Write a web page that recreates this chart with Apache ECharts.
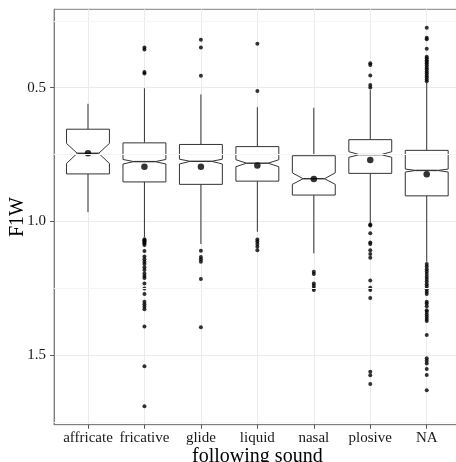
<!DOCTYPE html>
<html>
<head>
<meta charset="utf-8">
<script src="https://cdn.jsdelivr.net/npm/echarts@6/dist/echarts.min.js"></script>
<style>
  html, body { margin: 0; padding: 0; background: #ffffff; }
  #chart { width: 456px; height: 462px; }
</style>
</head>
<body>
<div id="chart"></div>
<script>
// F1W by following sound: notched boxplots with means and outliers
const categories = ['affricate', 'fricative', 'glide', 'liquid', 'nasal', 'plosive', 'NA'];

const whiskerLow  = [0.560, 0.502, 0.525, 0.573, 0.575, 0.509, 0.482];
const q1          = [0.655, 0.706, 0.712, 0.720, 0.754, 0.694, 0.734];
const notchLow    = [0.708, 0.768, 0.767, 0.769, 0.818, 0.739, 0.804];
const median      = [0.745, 0.776, 0.775, 0.782, 0.840, 0.750, 0.809];
const notchHigh   = [0.783, 0.785, 0.785, 0.795, 0.861, 0.760, 0.815];
const q3          = [0.822, 0.852, 0.861, 0.849, 0.901, 0.820, 0.904];
const whiskerHigh = [0.965, 1.058, 1.084, 1.038, 1.119, 1.006, 1.150];
const means       = [0.745, 0.795, 0.795, 0.791, 0.841, 0.770, 0.823];

const outlierValues = [
  [],
  [0.350, 0.357, 0.441, 0.447,
   1.066, 1.070, 1.074, 1.078, 1.082, 1.088, 1.110, 1.131, 1.141, 1.150, 1.159,
   1.171, 1.181, 1.194, 1.203, 1.211, 1.231, 1.250, 1.271, 1.300, 1.309,
   1.318, 1.328, 1.392, 1.541, 1.690],
  [0.321, 0.350, 0.455, 1.109, 1.132, 1.141, 1.150, 1.215, 1.395],
  [0.336, 0.512, 1.067, 1.075, 1.084, 1.094, 1.107],
  [1.188, 1.196, 1.231, 1.240, 1.249, 1.256],
  [0.409, 0.415, 0.454, 0.490, 0.499,
   1.011, 1.015, 1.044, 1.078, 1.084, 1.107, 1.121, 1.135, 1.220, 1.247,
   1.256, 1.286, 1.561, 1.574, 1.607],
  [0.276, 0.313, 0.319, 0.354, 0.384, 0.390, 0.397, 0.403, 0.409, 0.416,
   0.424, 0.431, 0.439, 0.446, 0.454, 0.461, 0.469, 0.476,
   1.159, 1.168, 1.178, 1.187, 1.196, 1.206, 1.215, 1.224, 1.234, 1.243,
   1.253, 1.262, 1.271, 1.300, 1.306, 1.316, 1.331, 1.338, 1.347, 1.356,
   1.364, 1.372, 1.424, 1.511, 1.520, 1.530, 1.551, 1.573, 1.630]
];

const yTicks = [0.5, 1.0, 1.5];
const yMinorLines = [0.25, 0.75, 1.25, 1.75];

const BOX_WIDTH = 0.76;   // fraction of category spacing
const NOTCH_RATIO = 0.5;  // notch half-width relative to box half-width
const STROKE = '#333333';
const FONT = '"Liberation Serif", "DejaVu Serif", serif';

const boxData = categories.map((c, i) => [
  i, whiskerLow[i], q1[i], notchLow[i], median[i], notchHigh[i], q3[i], whiskerHigh[i]
]);
const meanData = categories.map((c, i) => [i, means[i]]);
const outlierData = [];
outlierValues.forEach((list, i) => list.forEach(v => outlierData.push([i, v])));

function renderBox(params, api) {
  const x = api.value(0);
  const cx = api.coord([x, 0])[0];
  const half = api.size([1, 0])[0] * BOX_WIDTH / 2;
  const nh = half * NOTCH_RATIO;
  const Y = k => api.coord([x, api.value(k)])[1];
  const yWLo = Y(1), yQ1 = Y(2), yNLo = Y(3), yMed = Y(4), yNHi = Y(5), yQ3 = Y(6), yWHi = Y(7);
  const L = cx - half, R = cx + half;
  const line = { stroke: STROKE, lineWidth: 1 };
  return {
    type: 'group',
    children: [
      { type: 'line', shape: { x1: cx, y1: yWLo, x2: cx, y2: yQ1 }, style: line },
      { type: 'line', shape: { x1: cx, y1: yQ3, x2: cx, y2: yWHi }, style: line },
      {
        type: 'polygon',
        shape: { points: [
          [L, yQ1], [R, yQ1], [R, yNLo], [cx + nh, yMed], [R, yNHi], [R, yQ3],
          [L, yQ3], [L, yNHi], [cx - nh, yMed], [L, yNLo]
        ] },
        style: { fill: '#ffffff', stroke: STROKE, lineWidth: 1 }
      },
      { type: 'line', shape: { x1: cx - nh, y1: yMed, x2: cx + nh, y2: yMed },
        style: { stroke: STROKE, lineWidth: 1.4 } }
    ]
  };
}

const chart = echarts.init(document.getElementById('chart'), null, { renderer: 'canvas' });
chart.setOption({
  backgroundColor: '#ffffff',
  animation: false,
  grid: {
    left: 54.1, top: 9.3, right: -4.6, bottom: 37.3,
    show: true, borderColor: '#7f7f7f', borderWidth: 1, backgroundColor: 'transparent',
    containLabel: false,
    outerBoundsMode: 'none'
  },
  xAxis: {
    type: 'value',
    min: -0.6, max: 6.6,
    name: 'following sound',
    nameLocation: 'middle',
    nameGap: 22,
    nameMoveOverlap: false,
    nameTextStyle: { fontFamily: FONT, fontSize: 20, color: '#000000' },
    axisLine: { show: true, onZero: false, lineStyle: { color: '#7f7f7f', width: 1 } },
    axisTick: { show: true, length: 4, lineStyle: { color: '#555555' }, customValues: [0, 1, 2, 3, 4, 5, 6] },
    axisLabel: {
      customValues: [0, 1, 2, 3, 4, 5, 6],
      formatter: v => categories[Math.round(v)],
      fontFamily: FONT, fontSize: 15, color: '#1a1a1a', margin: 6
    },
    splitLine: { show: true, lineStyle: { color: '#ebebeb', width: 1 } }
  },
  yAxis: {
    type: 'value',
    inverse: true,
    min: 0.207, max: 1.759,
    name: 'F1W',
    nameLocation: 'middle',
    nameGap: 26,
    nameMoveOverlap: false,
    nameRotate: 90,
    nameTextStyle: { fontFamily: FONT, fontSize: 20, color: '#000000' },
    axisLine: { show: true, onZero: false, lineStyle: { color: '#7f7f7f', width: 1 } },
    axisTick: { show: true, length: 4, lineStyle: { color: '#555555' }, customValues: yTicks },
    axisLabel: {
      customValues: yTicks,
      formatter: v => v.toFixed(1),
      fontFamily: FONT, fontSize: 15, color: '#1a1a1a', margin: 8
    },
    splitLine: { show: true, lineStyle: { color: '#ebebeb', width: 1 } }
  },
  series: [
    {
      type: 'line',
      data: [],
      z: 1,
      silent: true,
      markLine: {
        silent: true,
        symbol: ['none', 'none'],
        label: { show: false },
        lineStyle: { color: '#f5f5f5', width: 1, type: 'solid' },
        data: yMinorLines.map(v => ({ yAxis: v }))
      }
    },
    {
      type: 'custom',
      z: 2,
      renderItem: renderBox,
      encode: { x: 0, y: [1, 2, 3, 4, 5, 6, 7] },
      data: boxData
    },
    {
      type: 'scatter',
      z: 3,
      symbol: 'circle',
      symbolSize: 4,
      itemStyle: { color: '#000000' },
      data: outlierData
    },
    {
      type: 'scatter',
      z: 4,
      symbol: 'circle',
      symbolSize: 6.5,
      itemStyle: { color: '#000000' },
      data: meanData
    }
  ]
});
</script>
</body>
</html>
